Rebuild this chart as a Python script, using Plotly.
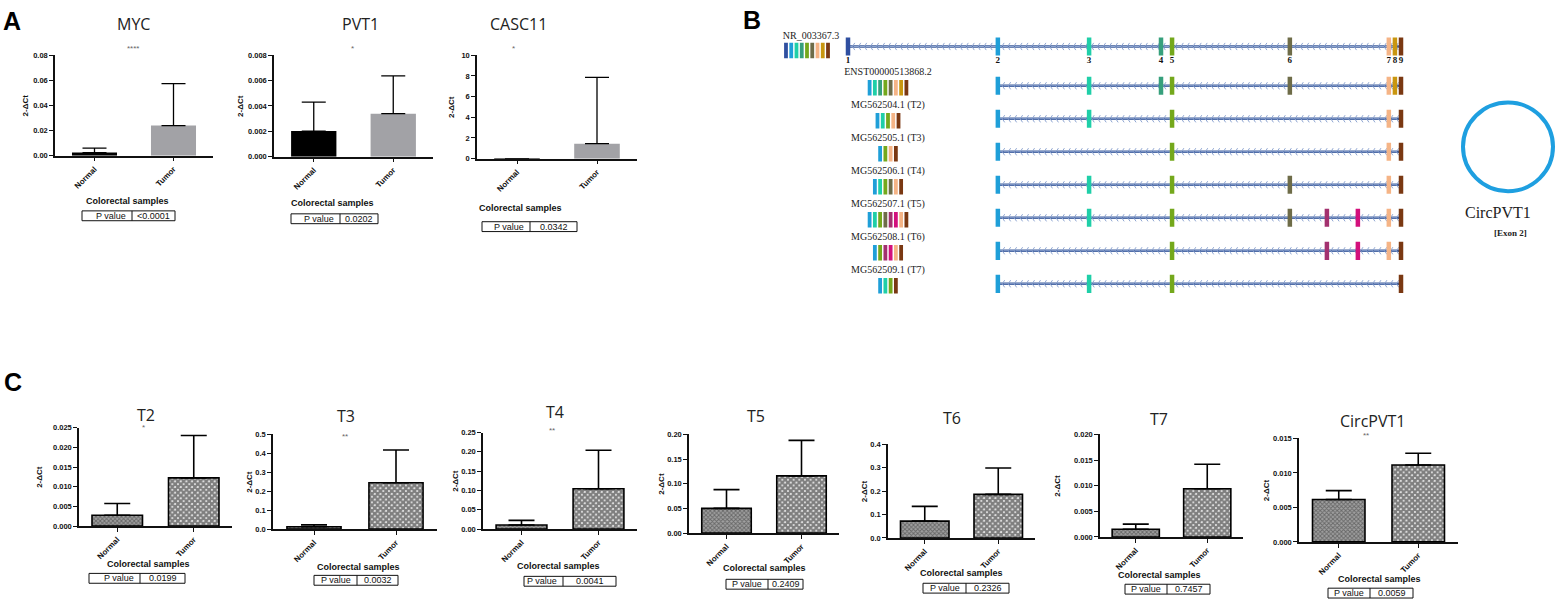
import plotly.graph_objects as go
import numpy as np

W, H = 1557, 605

# ---------------- DATA ----------------
categories = ["Normal", "Tumor"]

# Panel A (mean and mean+SD)
myc_mean = [0.0025, 0.0240]
myc_upper = [0.0060, 0.0574]
pvt1_mean = [0.00202, 0.00339]
pvt1_upper = [0.0043, 0.00637]
casc11_mean = [0.01, 1.45]
casc11_upper = [0.01, 7.85]
a_names = ["MYC", "PVT1", "CASC11"]
a_stars = ["****", "*", "*"]
a_pvalues = ["<0.0001", "0.0202", "0.0342"]
a_ymax = [0.08, 0.008, 10]
a_dtick = [0.02, 0.002, 2]
a_fmt = [".2f", ".3f", "d"]

# Panel C
t2_mean = [0.00275, 0.01225]
t2_upper = [0.00575, 0.0230]
t3_mean = [0.012, 0.245]
t3_upper = [0.022, 0.418]
t4_mean = [0.0105, 0.1046]
t4_upper = [0.0225, 0.204]
t5_mean = [0.050, 0.116]
t5_upper = [0.088, 0.188]
t6_mean = [0.072, 0.186]
t6_upper = [0.135, 0.299]
t7_mean = [0.0015, 0.0094]
t7_upper = [0.0025, 0.0142]
circ_mean = [0.00614, 0.01114]
circ_upper = [0.00743, 0.01286]
c_names = ["T2", "T3", "T4", "T5", "T6", "T7", "CircPVT1"]
c_stars = ["*", "**", "**", "", "", "", "**"]
c_pvalues = ["0.0199", "0.0032", "0.0041", "0.2409", "0.2326", "0.7457", "0.0059"]
c_ymax = [0.025, 0.5, 0.25, 0.20, 0.4, 0.020, 0.015]
c_dtick = [0.005, 0.1, 0.05, 0.05, 0.1, 0.005, 0.005]
c_fmt = [".3f", ".1f", ".2f", ".2f", ".1f", ".3f", ".3f"]

# Panel B (relative exon positions, exon 1 = 0, exon 9 = 100)
exon_ids = ["1", "2", "3", "4", "5", "6", "7", "8", "9", "A", "B"]
exon_pos = [0, 27.1, 43.6, 56.6, 58.6, 79.9, 97.8, 98.9, 100, 86.6, 92.2]
exon_colors = ["#2f4fa0", "#1f9fd8", "#1fcfa8", "#36a07c", "#74a81c", "#6e6c48",
               "#f5b486", "#c9960f", "#7a3812", "#a3316f", "#d3107c"]
transcripts = ["NR_003367.3", "ENST00000513868.2", "MG562504.1 (T2)", "MG562505.1 (T3)",
               "MG562506.1 (T4)", "MG562507.1 (T5)", "MG562508.1 (T6)", "MG562509.1 (T7)"]
transcript_exons = [
    ["1", "2", "3", "4", "5", "6", "7", "8", "9"],
    ["2", "3", "4", "5", "6", "7", "8", "9"],
    ["2", "3", "5", "7", "9"],
    ["2", "5", "7", "9"],
    ["2", "3", "5", "6", "7", "9"],
    ["2", "3", "5", "6", "A", "B", "7", "9"],
    ["2", "5", "A", "B", "7", "9"],
    ["2", "3", "5", "9"],
]

# ---------------- LAYOUT GEOMETRY (pixels) ----------------
def px(x):
    return x / W

def py(y):
    return 1 - y / H

a_geo = [
    dict(box=(55, 213, 52, 154), title=(133, 20), star=(133, 45), ylab=25, xlab=(128, 200), table=(82, 132, 175, 210, 220)),
    dict(box=(274, 433, 52, 155), title=(360, 20), star=(352, 45), ylab=241, xlab=(332, 202), table=(291, 340, 378, 213, 223)),
    dict(box=(477, 637, 52, 157), title=(518, 20), star=(513, 45), ylab=452, xlab=(520, 207), table=(482, 530, 577, 221, 231)),
]
c_geo = [
    dict(box=(79, 232, 430, 530), title=(146, 417), star=(143, 430), ylab=40, xlab=(148, 568), table=(89, 140, 185, 578, 588)),
    dict(box=(273, 437, 437, 533), title=(346, 418), star=(345, 439), ylab=250, xlab=(358, 572), table=(314, 357, 398, 580, 590)),
    dict(box=(483, 637, 435, 533), title=(555, 414), star=(552, 433), ylab=456, xlab=(558, 570), table=(524, 563, 616, 581, 591)),
    dict(box=(689, 839, 437, 537), title=(756, 418), star=(756, 437), ylab=662, xlab=(764, 573), table=(726, 768, 803, 584, 594)),
    dict(box=(888, 1035, 447, 542), title=(952, 420), star=(952, 447), ylab=864, xlab=(961, 578), table=(923, 966, 1009, 588, 598)),
    dict(box=(1100, 1243, 437, 541), title=(1159, 421), star=(1159, 437), ylab=1058, xlab=(1159, 580), table=(1125, 1167, 1210, 589, 599)),
    dict(box=(1299, 1458, 441, 546), title=(1372, 423), star=(1366, 438), ylab=1266, xlab=(1379, 584), table=(1328, 1370, 1413, 593, 603)),
]

SANS = "Liberation Sans"
SERIF = "Liberation Serif"
TITLE_FONT = "Open Sans"

fig = go.Figure()
layout = dict(width=W, height=H, margin=dict(l=0, r=0, t=0, b=0),
              paper_bgcolor="white", plot_bgcolor="white", showlegend=False)
annotations = []
shapes = []


def note(text, x, y, font, xanchor="center", textangle=0):
    annotations.append(dict(text=text, x=px(x), y=py(y), xref="paper", yref="paper",
                            showarrow=False, xanchor=xanchor, yanchor="middle",
                            textangle=textangle, font=font))


panels = []
a_data = [(myc_mean, myc_upper), (pvt1_mean, pvt1_upper), (casc11_mean, casc11_upper)]
for k in range(3):
    panels.append(dict(mean=a_data[k][0], upper=a_data[k][1], name=a_names[k], star=a_stars[k],
                       p=a_pvalues[k], ymax=a_ymax[k], dtick=a_dtick[k], fmt=a_fmt[k],
                       geo=a_geo[k], kind="A"))
c_data = [(t2_mean, t2_upper), (t3_mean, t3_upper), (t4_mean, t4_upper), (t5_mean, t5_upper),
          (t6_mean, t6_upper), (t7_mean, t7_upper), (circ_mean, circ_upper)]
for k in range(7):
    panels.append(dict(mean=c_data[k][0], upper=c_data[k][1], name=c_names[k], star=c_stars[k],
                       p=c_pvalues[k], ymax=c_ymax[k], dtick=c_dtick[k], fmt=c_fmt[k],
                       geo=c_geo[k], kind="C"))

tickfont = dict(family=SANS, size=7.5, color="#111", weight="bold")

for i, p in enumerate(panels, start=1):
    xa = "x" if i == 1 else f"x{i}"
    ya = "y" if i == 1 else f"y{i}"
    x0, x1, y0, y1 = p["geo"]["box"]
    err = [u - m for u, m in zip(p["upper"], p["mean"])]
    if p["kind"] == "A":
        for j in range(2):
            fig.add_trace(go.Bar(
                x=[categories[j]], y=[p["mean"][j]], xaxis=xa, yaxis=ya, width=0.57,
                marker=dict(color=["#000000", "#a2a2a6"][j], line=dict(width=0)),
                error_y=dict(type="data", symmetric=False, array=[err[j]], arrayminus=[0],
                             color="black", thickness=1.3, width=12),
                hoverinfo="skip"))
    else:
        pats = [dict(shape="x", size=3, solidity=0.5, fgcolor="#2e2e2e", bgcolor="#a0a0a0"),
                dict(shape="x", size=4, solidity=0.85, fgcolor="#000000", bgcolor="#ffffff")]
        for j in range(2):
            fig.add_trace(go.Bar(
                x=[categories[j]], y=[p["mean"][j]], xaxis=xa, yaxis=ya, width=0.66,
                marker=dict(color=pats[j]["bgcolor"], pattern=pats[j], line=dict(color="black", width=1.6)),
                error_y=dict(type="data", symmetric=False, array=[err[j]], arrayminus=[0],
                             color="black", thickness=1.6, width=13),
                hoverinfo="skip"))
    xkey = "xaxis" if i == 1 else f"xaxis{i}"
    ykey = "yaxis" if i == 1 else f"yaxis{i}"
    layout[xkey] = dict(domain=[px(x0), px(x1)], anchor=ya, type="category",
                        categoryorder="array", categoryarray=categories,
                        range=[-0.5, 1.5], showline=True, linecolor="#111", linewidth=1.5,
                        ticks="outside", ticklen=4, tickwidth=1.2, tickcolor="#111",
                        tickangle=-45, tickfont=dict(family=SANS, size=8, color="#111", weight="bold"),
                        showgrid=False, zeroline=False)
    layout[ykey] = dict(domain=[py(y1), py(y0)], anchor=xa, range=[0, p["ymax"]],
                        dtick=p["dtick"], tick0=0, tickformat=p["fmt"], showline=True,
                        linecolor="#111", linewidth=1.5, ticks="outside", ticklen=4,
                        tickwidth=1.2, tickcolor="#111", tickfont=tickfont,
                        showgrid=False, zeroline=False)
    g = p["geo"]
    note(p["name"], g["title"][0], g["title"][1], dict(family=TITLE_FONT, size=16, color="#222"))
    if p["star"]:
        note(p["star"], g["star"][0], g["star"][1], dict(family=SANS, size=8, color="#666"))
    note("2-\u0394Ct", g["ylab"], (y0 + y1) / 2,
         dict(family=SANS, size=8, color="#111", weight="bold"), textangle=-90)
    note("Colorectal samples", g["xlab"][0], g["xlab"][1],
         dict(family=SANS, size=9, color="#111", weight="bold"))
    tx0, tdiv, tx1, ty0, ty1 = g["table"]
    shapes.append(dict(type="rect", xref="paper", yref="paper", x0=px(tx0), x1=px(tx1),
                       y0=py(ty1), y1=py(ty0), line=dict(color="#111", width=1)))
    shapes.append(dict(type="line", xref="paper", yref="paper", x0=px(tdiv), x1=px(tdiv),
                       y0=py(ty1), y1=py(ty0), line=dict(color="#111", width=1)))
    note("P value", tdiv - 4, (ty0 + ty1) / 2, dict(family=SANS, size=9, color="#111"), xanchor="right")
    note(p["p"], (tdiv + tx1) / 2, (ty0 + ty1) / 2, dict(family=SANS, size=9, color="#111"))

# ---------------- PANEL B diagram ----------------
pos = dict(zip(exon_ids, exon_pos))
col = dict(zip(exon_ids, exon_colors))
XA, YA = "x11", "y11"
PXU = 5.53          # pixels per position unit
X_AT0 = 848         # pixel of exon 1
ROW1, ROWSTEP = 83, 33.5   # pixel of row 1 line, pixels per row
layout["xaxis11"] = dict(domain=[px(775), px(1425)], anchor=YA, visible=False,
                         range=[(775 - X_AT0) / PXU, (1425 - X_AT0) / PXU])
layout["yaxis11"] = dict(domain=[py(300), py(25)], anchor=XA, visible=False,
                         range=[1 + (300 - ROW1) / ROWSTEP, 1 + (25 - ROW1) / ROWSTEP])
row_y = [r - (0.19 if r == 0 else 0.0) for r in range(len(transcripts))]

for r, (name, exs) in enumerate(zip(transcripts, transcript_exons)):
    yr = row_y[r]
    xs = [pos[e] for e in exs]
    xmin, xmax = min(xs), max(xs)
    fig.add_trace(go.Scatter(x=[xmin, xmax], y=[yr, yr], mode="lines", xaxis=XA, yaxis=YA,
                             line=dict(color="#3b5a99", width=2.6), hoverinfo="skip"))
    chev = np.arange(xmin + 0.8, xmax - 0.3, 1.08)
    fig.add_trace(go.Scatter(x=chev, y=[yr] * len(chev), mode="markers", xaxis=XA, yaxis=YA,
                             marker=dict(symbol="y-left", size=6, color="#8fa6d2",
                                         line=dict(color="#8fa6d2", width=1)),
                             hoverinfo="skip"))
    fig.add_trace(go.Scatter(x=xs, y=[yr] * len(xs), mode="markers", xaxis=XA, yaxis=YA,
                             marker=dict(symbol="line-ns", size=13,
                                         color=[col[e] for e in exs],
                                         line=dict(color=[col[e] for e in exs], width=4.5)),
                             hoverinfo="skip"))
    if r == 0:
        lx, ly, sy = (811 - X_AT0) / PXU, yr - 10 / ROWSTEP, yr + 4 / ROWSTEP
        scx = (807 - X_AT0) / PXU
    else:
        lx, ly, sy = (888 - X_AT0) / PXU, yr - 13 / ROWSTEP, yr + 2 / ROWSTEP
        scx = lx
    fig.add_trace(go.Scatter(x=[lx], y=[ly], mode="text", text=[name], xaxis=XA, yaxis=YA,
                             textfont=dict(family=SERIF, size=10, color="#222"), hoverinfo="skip"))
    n = len(exs)
    sw = [scx + (k - (n - 1) / 2) * 0.95 for k in range(n)]
    fig.add_trace(go.Scatter(x=sw, y=[sy] * n, mode="markers", xaxis=XA, yaxis=YA,
                             marker=dict(symbol="line-ns", size=11, color=[col[e] for e in exs],
                                         line=dict(color=[col[e] for e in exs], width=3.8)),
                             hoverinfo="skip"))

num_ids = exon_ids[:9]
fig.add_trace(go.Scatter(x=[pos[e] for e in num_ids], y=[row_y[0] + 14 / ROWSTEP] * 9, mode="text",
                         text=num_ids, xaxis=XA, yaxis=YA,
                         textfont=dict(family=SERIF, size=9, color="#111", weight="bold"),
                         hoverinfo="skip"))

# CircPVT1 circle
shapes.append(dict(type="circle", xref="paper", yref="paper", x0=px(1463), x1=px(1553),
                   y0=py(190), y1=py(100), line=dict(color="#1e9fe0", width=4)))
note("CircPVT1", 1498, 212, dict(family=SERIF, size=16, color="#222"))
note("[Exon 2]", 1510, 232, dict(family=SERIF, size=9, color="#222", weight="bold"))

# Panel letters
for letter, lx, ly in [("A", 12, 17), ("B", 752, 16), ("C", 13, 384)]:
    note(letter, lx, ly, dict(family=SANS, size=25, color="#000", weight="bold"))

layout["annotations"] = annotations
layout["shapes"] = shapes
fig.update_layout(**layout)
fig.write_html("out.html", config={"displayModeBar": False},
               post_script="document.body.style.margin='0';document.body.style.overflow='hidden';")
